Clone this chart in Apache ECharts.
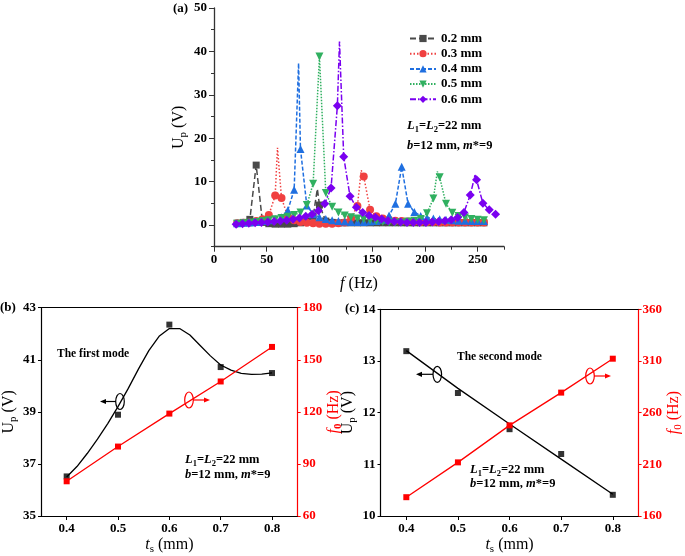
<!DOCTYPE html>
<html><head><meta charset="utf-8">
<script src="https://cdn.jsdelivr.net/npm/echarts@6/dist/echarts.min.js"></script>
<style>html,body{margin:0;padding:0;background:#fff}#c{width:685px;height:556px}</style>
</head><body><div id="c"></div>
<script>
// ---------- Panel (a) data ----------
const legendNames = ['0.2 mm','0.3 mm','0.4 mm','0.5 mm','0.6 mm'];
const fA = [22,28,34,40,46,52,58,64,70,76,82,88,94,100,106,112,118,124,130,136,142,148,154,160,166,172,178,184,190,196,202,208,214,220,226,232,238,244,250,256];
const fP = [21,27,33,39,45,51,57,63,69,75,81,87,93,99,105,111,117,123,129,135,141,147,153,159,165,171,177,183,189,195,201,207,213,219,225,231,237,243,249,255,261,267];
const u02 = [0.4,0.6,1.3,13.8,0.6,0.3,0.2,0.2,0.2,0.3,0.5,0.9,2.0,4.6,0.9,0.6,0.5,0.5,0.5,0.5,0.5,0.5,0.5,0.5,0.5,0.5,0.5,0.5,0.5,0.5,0.5,0.5,0.5,0.5,0.5,0.5,0.5,0.5,0.5,0.5];
const u03 = [0.4,0.5,0.6,0.9,1.3,2.3,6.8,6.2,2.0,1.1,0.7,0.5,0.4,0.3,0.3,0.3,0.4,0.6,1.6,4.4,11.2,3.5,2.0,1.5,1.2,1.0,0.9,0.8,0.8,0.7,0.7,0.7,0.6,0.6,0.6,0.6,0.6,0.6,0.6,0.6];
const u04 = [0.4,0.5,0.6,0.7,0.9,1.1,1.4,1.8,3.4,8.1,17.5,4.5,2.5,1.8,1.4,1.1,0.9,0.8,0.7,0.7,0.7,0.8,0.9,1.2,2.2,4.9,13.4,4.9,3.0,2.1,1.7,1.5,1.3,1.2,1.1,1.0,1.0,0.9,0.9,0.9];
const u05 = [0.3,0.4,0.5,0.7,0.9,1.1,1.3,1.6,1.9,2.3,2.9,4.6,9.5,38.8,7.4,4.2,2.9,2.2,1.8,1.5,1.3,1.1,0.9,0.7,0.6,0.6,0.6,0.8,1.0,1.4,2.7,6.1,11.0,4.9,2.8,2.1,1.7,1.4,1.2,1.1];
const u06 = [0.2,0.3,0.4,0.5,0.6,0.7,0.8,0.9,1.1,1.3,1.6,2.0,2.5,3.3,4.9,8.5,27.5,15.7,6.6,4.1,2.9,2.2,1.8,1.4,1.0,0.8,0.7,0.6,0.6,0.6,0.6,0.7,0.8,1.0,1.2,1.7,2.9,6.9,10.4,5.0,3.5,2.5];
// line-only peak points (between markers)
const pk02 = [[98, 8.3]];
const pk03 = [[60.2, 17.8],[139.6, 12.6]];
const pk04 = [[80.2, 37.3]];
const pk05 = [[211.8, 12.3]];
const pk06 = [[119, 42.3],[247.5, 11.5]];
const aXTicks = [0,50,100,150,200,250];
const aYTicks = [0,10,20,30,40,50];

// ---------- Panel (b) data ----------
const ts = [0.4,0.5,0.6,0.7,0.8];
const bUp = [36.52,38.89,42.35,40.72,40.49];
const bF0 = [80,100,119,137.5,157.4];
const bFitX = [0.40,0.42,0.44,0.46,0.48,0.50,0.52,0.54,0.56,0.58,0.60,0.62,0.64,0.66,0.68,0.70,0.72,0.74,0.76,0.78,0.80];
const bFitU = [36.5,36.9,37.4,37.95,38.55,39.2,39.9,40.65,41.35,41.9,42.2,42.2,41.95,41.55,41.15,40.8,40.6,40.48,40.44,40.45,40.5];
const bYTicks = [35,37,39,41,43];

// ---------- Panel (c) data ----------
const cUp = [13.19,12.38,11.68,11.2,10.41];
const cF0 = [178.2,211.9,247.7,279.4,312.2];
const cFitX = [0.4,0.5,0.6,0.7,0.8];
const cFitU = [13.2,12.47,11.78,11.1,10.42];
const cF0Ticks = [160,210,260,310,360];
const tsTicks = [0.4,0.5,0.6,0.7,0.8];

const FONT = 'Liberation Serif';
const RED = '#ff0000';

function build(fs, us, peaks){
  const pts = fs.map((f,i)=>({value:[f, us[i]]}));
  peaks.forEach(p=>pts.push({value:[p[0],p[1]], symbol:'none'}));
  pts.sort((a,b)=>a.value[0]-b.value[0]);
  return pts;
}
function pairs(xs, ys){ return xs.map((x,i)=>[x, ys[i]]); }

const tickLbl = (color)=>({fontFamily:FONT, fontSize:13, fontWeight:'bold', color:color||'#000'});
function richSet(color){
  return {
    n:{fontFamily:FONT,fontSize:16,lineHeight:20,color:color},
    i:{fontFamily:FONT,fontSize:16,fontStyle:'italic',lineHeight:20,color:color},
    s:{fontFamily:FONT,fontSize:11,lineHeight:11,verticalAlign:'bottom',color:color},
    sb:{fontFamily:FONT,fontSize:11,fontWeight:'bold',lineHeight:11,verticalAlign:'bottom',color:color}
  };
}
function nameStyle(color){ return {fontFamily:FONT,fontSize:16,color:color,rich:richSet(color)}; }

const aSeriesDefs = [
  {name:legendNames[0], fs:fA, us:u02, pk:pk02, color:'#4a4a4a', symbol:'rect', size:7, dash:[6,3], rot:0},
  {name:legendNames[1], fs:fA, us:u03, pk:pk03, color:'#f04040', symbol:'circle', size:8, dash:[1.5,2], rot:0},
  {name:legendNames[2], fs:fA, us:u04, pk:pk04, color:'#1f6fe0', symbol:'triangle', size:8, dash:[4,2], rot:0},
  {name:legendNames[3], fs:fA, us:u05, pk:pk05, color:'#30b060', symbol:'triangle', size:8, dash:[1.5,1.5], rot:180},
  {name:legendNames[4], fs:fP, us:u06, pk:pk06, color:'#7a00f0', symbol:'diamond', size:9, dash:[6,2,1.5,2], rot:0}
];

const series = aSeriesDefs.map(d=>({
  type:'line', name:d.name, xAxisIndex:0, yAxisIndex:0,
  data: build(d.fs, d.us, d.pk),
  symbol:d.symbol, symbolSize:d.size, symbolRotate:d.rot, showAllSymbol:true,
  itemStyle:{color:d.color},
  lineStyle:{color:d.color, width:1.5, type:d.dash},
  emphasis:{disabled:true}
}));

// panel b
series.push({type:'line', xAxisIndex:2, yAxisIndex:2, data:pairs(bFitX,bFitU), symbol:'none', lineStyle:{color:'#000',width:1.3}, z:3});
series.push({type:'scatter', xAxisIndex:2, yAxisIndex:2, data:pairs(ts,bUp), symbol:'rect', symbolSize:6, itemStyle:{color:'#000'}, z:4});
series.push({type:'line', xAxisIndex:2, yAxisIndex:3, data:pairs(ts,bF0), symbol:'rect', symbolSize:6, itemStyle:{color:RED}, lineStyle:{color:RED,width:1.3}, z:5});
// panel c
series.push({type:'line', xAxisIndex:4, yAxisIndex:4, data:pairs(cFitX,cFitU), symbol:'none', lineStyle:{color:'#000',width:1.3}, z:3});
series.push({type:'scatter', xAxisIndex:4, yAxisIndex:4, data:pairs(ts,cUp), symbol:'rect', symbolSize:6, itemStyle:{color:'#000'}, z:4});
series.push({type:'line', xAxisIndex:4, yAxisIndex:5, data:pairs(ts,cF0), symbol:'rect', symbolSize:6, itemStyle:{color:RED}, lineStyle:{color:RED,width:1.3}, z:5});

const AX = '#333';
const xAxis = [
  // a minor
  {gridIndex:0, type:'value', min:0, max:275, interval:25, position:'bottom',
   axisLine:{show:true,onZero:false,lineStyle:{color:AX,width:1.3}}, axisTick:{show:true,length:3,lineStyle:{color:AX}},
   axisLabel:{show:false}, splitLine:{show:false}},
  // a major
  {gridIndex:0, type:'value', min:0, max:275, position:'bottom',
   axisLine:{show:false,onZero:false}, axisTick:{show:true,length:5,customValues:aXTicks,lineStyle:{color:AX}},
   axisLabel:{customValues:aXTicks, margin:6, ...tickLbl()}, splitLine:{show:false},
   name:'{i|f}{n| (Hz)}', nameLocation:'middle', nameGap:27, nameTextStyle:nameStyle('#000')},
  // b bottom
  {gridIndex:1, type:'value', min:0.35, max:0.85, position:'bottom',
   axisLine:{onZero:false,lineStyle:{color:'#000',width:1.2}}, axisTick:{customValues:tsTicks,length:4,lineStyle:{color:'#000'}},
   axisLabel:{customValues:tsTicks, margin:6, ...tickLbl()}, splitLine:{show:false},
   name:'{i|t}{s|s}{n| (mm)}', nameLocation:'middle', nameGap:19, nameTextStyle:nameStyle('#000')},
  // b top
  {gridIndex:1, type:'value', min:0.35, max:0.85, position:'top',
   axisLine:{onZero:false,lineStyle:{color:'#000',width:1.2}}, axisTick:{show:false}, axisLabel:{show:false}, splitLine:{show:false}},
  // c bottom
  {gridIndex:2, type:'value', min:0.35, max:0.85, position:'bottom',
   axisLine:{onZero:false,lineStyle:{color:'#000',width:1.2}}, axisTick:{customValues:tsTicks,length:4,lineStyle:{color:'#000'}},
   axisLabel:{customValues:tsTicks, margin:6, ...tickLbl()}, splitLine:{show:false},
   name:'{i|t}{s|s}{n| (mm)}', nameLocation:'middle', nameGap:19, nameTextStyle:nameStyle('#000')},
  // c top
  {gridIndex:2, type:'value', min:0.35, max:0.85, position:'top',
   axisLine:{onZero:false,lineStyle:{color:'#000',width:1.2}}, axisTick:{show:false}, axisLabel:{show:false}, splitLine:{show:false}}
];

const yAxis = [
  // a minor
  {gridIndex:0, type:'value', min:-5, max:50, interval:5, position:'left',
   axisLine:{show:true,onZero:false,lineStyle:{color:AX,width:1.3}}, axisTick:{show:true,length:3,lineStyle:{color:AX}},
   axisLabel:{show:false}, splitLine:{show:false}},
  // a major
  {gridIndex:0, type:'value', min:-5, max:50, position:'left',
   axisLine:{show:false,onZero:false}, axisTick:{show:true,length:5,customValues:aYTicks,lineStyle:{color:AX}},
   axisLabel:{customValues:aYTicks, margin:7, ...tickLbl()}, splitLine:{show:false},
   name:'{n|U}{s|p}{n| (V)}', nameLocation:'middle', nameRotate:90, nameGap:25, nameTextStyle:nameStyle('#000')},
  // b left
  {gridIndex:1, type:'value', min:35, max:43, position:'left',
   axisLine:{onZero:false,lineStyle:{color:'#000',width:1.2}}, axisTick:{customValues:bYTicks,length:3,lineStyle:{color:'#000'}},
   axisLabel:{customValues:bYTicks, margin:5, ...tickLbl()}, splitLine:{show:false},
   name:'{n|U}{s|p}{n| (V)}', nameLocation:'middle', nameRotate:90, nameGap:22, nameTextStyle:nameStyle('#000')},
  // b right
  {gridIndex:1, type:'value', min:60, max:180, interval:30, position:'right',
   axisLine:{onZero:false,lineStyle:{color:RED,width:1.2}}, axisTick:{length:3,lineStyle:{color:RED}},
   axisLabel:{margin:5, ...tickLbl(RED)}, splitLine:{show:false},
   name:'{i|f}{sb|0}{n| (Hz)}', nameLocation:'middle', nameRotate:90, nameGap:26, nameTextStyle:nameStyle(RED)},
  // c left
  {gridIndex:2, type:'value', min:10, max:14, interval:1, position:'left',
   axisLine:{onZero:false,lineStyle:{color:'#000',width:1.2}}, axisTick:{length:3,lineStyle:{color:'#000'}},
   axisLabel:{margin:5, ...tickLbl()}, splitLine:{show:false},
   name:'{n|U}{s|p}{n| (V)}', nameLocation:'middle', nameRotate:90, nameGap:23, nameTextStyle:nameStyle('#000')},
  // c right
  {gridIndex:2, type:'value', min:160, max:360, position:'right',
   axisLine:{onZero:false,lineStyle:{color:RED,width:1.2}}, axisTick:{customValues:cF0Ticks,length:3,lineStyle:{color:RED}},
   axisLabel:{customValues:cF0Ticks, margin:4, ...tickLbl(RED)}, splitLine:{show:false},
   name:'{i|f}{s|0}{n| (Hz)}', nameLocation:'middle', nameRotate:90, nameGap:23, nameTextStyle:nameStyle(RED)}
];

const bRich = {
  b:{fontFamily:FONT,fontSize:12.5,fontWeight:'bold',color:'#000',lineHeight:16},
  bi:{fontFamily:FONT,fontSize:12.5,fontWeight:'bold',fontStyle:'italic',color:'#000',lineHeight:16},
  bs:{fontFamily:FONT,fontSize:8.5,fontWeight:'bold',color:'#000',lineHeight:8.5,verticalAlign:'bottom'}
};
function txt(x,y,text,extra){
  return Object.assign({type:'text', x:x, y:y, silent:true,
    style:Object.assign({text:text, rich:bRich, textVerticalAlign:'middle', verticalAlign:'middle'}, extra||{})});
}
const L1 = '{bi|L}{bs|1}{b|=}{bi|L}{bs|2}{b|=22 mm}';
const L2 = '{bi|b}{b|=12 mm, }{bi|m}{b|*=9}';
function ell(cx,cy,color){ return {type:'ellipse', silent:true, shape:{cx:cx,cy:cy,rx:4.3,ry:8}, style:{fill:'none',stroke:color,lineWidth:1.2}}; }
function arrow(x1,x2,y,color){
  const dir = x2>x1?1:-1;
  return [
    {type:'line', silent:true, shape:{x1:x1,y1:y,x2:x2-dir*5,y2:y}, style:{stroke:color,lineWidth:1.2}},
    {type:'polygon', silent:true, shape:{points:[[x2,y],[x2-dir*6,y-2.6],[x2-dir*6,y+2.6]]}, style:{fill:color}}
  ];
}
const graphic = [
  txt(173, 9, '{b|(a)}', {rich:{b:{fontFamily:FONT,fontSize:13,fontWeight:'bold',color:'#000'}}}),
  txt(407, 126, L1), txt(407, 146, L2),
  txt(0, 308, '{b|(b)}', {rich:{b:{fontFamily:FONT,fontSize:13,fontWeight:'bold',color:'#000'}}}),
  txt(345, 309, '{b|(c)}', {rich:{b:{fontFamily:FONT,fontSize:13,fontWeight:'bold',color:'#000'}}}),
  txt(57, 354, '{b|The first mode}', {rich:{b:{fontFamily:FONT,fontSize:11.5,fontWeight:'bold',color:'#000'}}}),
  txt(457, 357, '{b|The second mode}', {rich:{b:{fontFamily:FONT,fontSize:11.5,fontWeight:'bold',color:'#000'}}}),
  txt(185, 460, L1), txt(185, 475, L2),
  txt(470, 470, L1), txt(470, 484, L2),
  ell(120, 401.5, '#000'), ...arrow(116, 100, 401.5, '#000'),
  ell(189, 400, RED), ...arrow(193, 210, 400, RED),
  ell(437.3, 374.3, '#000'), ...arrow(433, 416, 374.3, '#000'),
  ell(590, 376, RED), ...arrow(594, 611, 376, RED)
];

const option = {
  animation:false,
  backgroundColor:'#fff',
  grid:[
    {left:214, top:8, width:290, height:238.7},
    {left:37.7, top:307.7, width:260, height:210.6},
    {left:380.5, top:309.3, width:261, height:209}
  ],
  legend:{
    data:legendNames, orient:'vertical', left:404, top:27, itemWidth:26, itemHeight:9, itemGap:2.2,
    textStyle:{fontFamily:FONT,fontSize:13,fontWeight:'bold',color:'#000'}, selectedMode:false
  },
  xAxis:xAxis, yAxis:yAxis, series:series, graphic:graphic
};
const chart = echarts.init(document.getElementById('c'), null, {renderer:'canvas'});
chart.setOption(option);
</script>
</body></html>
